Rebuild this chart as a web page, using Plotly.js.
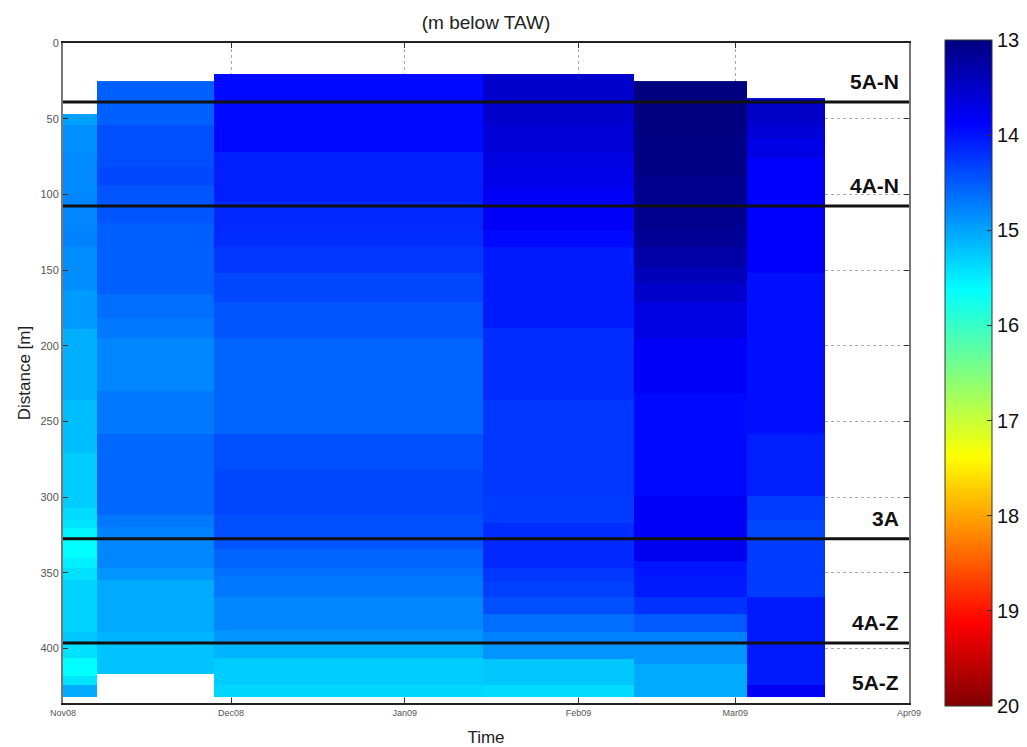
<!DOCTYPE html>
<html><head><meta charset="utf-8">
<script src="https://cdn.plot.ly/plotly-3.0.1.min.js"></script>
<style>html,body{margin:0;padding:0;background:#fff}#chart{width:1027px;height:747px}</style>
</head><body><div id="chart"></div>
<script>
// Survey column boundaries (time)
const colDates = ['2008-11-01','2008-11-07','2008-11-28','2009-01-15','2009-02-11','2009-03-03','2009-03-17'];

// Depth cell edges [m] and water level [m below TAW] per survey column
const edgesCol1 = [47, 54, 72, 100, 124, 135, 163, 189, 236, 271, 307, 315, 320.5, 327, 340, 347, 355, 389, 397, 406, 418, 424, 432];
const levelsCol1 = [14.97, 14.87, 14.82, 14.80, 14.77, 14.84, 14.94, 15.08, 15.18, 15.28, 15.38, 15.45, 15.56, 15.625, 15.52, 15.42, 15.32, 15.25, 15.42, 15.625, 15.45, 15.04];

const edgesCol2 = [25, 54, 82, 94, 119, 166, 182, 195, 230, 258, 312, 320, 327, 347, 355, 389, 397, 417];
const levelsCol2 = [14.53, 14.42, 14.36, 14.46, 14.53, 14.63, 14.70, 14.80, 14.70, 14.58, 14.70, 14.77, 14.80, 14.90, 15.04, 15.11, 15.21];

const edgesCol3 = [20.5, 72, 105, 123.5, 135, 152, 171, 195, 229, 258, 282, 312, 327, 334, 347, 352, 366, 388, 397, 406, 424, 432];
const levelsCol3 = [13.94, 14.08, 14.15, 14.18, 14.25, 14.36, 14.46, 14.56, 14.56, 14.42, 14.36, 14.42, 14.46, 14.56, 14.63, 14.70, 14.80, 14.90, 15.11, 15.28, 15.35];

const edgesCol4 = [20.5, 54, 72, 82.5, 95, 123.5, 135, 188, 236, 299, 317, 327, 347, 356, 366, 377, 389, 397, 407, 424, 432];
const levelsCol4 = [13.53, 13.60, 13.67, 13.74, 13.81, 13.94, 14.05, 14.18, 14.25, 14.29, 14.18, 14.15, 14.25, 14.32, 14.42, 14.63, 14.77, 14.90, 15.25, 15.38];

const edgesCol5 = [25, 60, 87, 123.5, 135, 148, 158.5, 171, 195, 231, 299, 327, 342, 352, 366, 377, 389, 397, 410, 432];
const levelsCol5 = [13.0, 13.03, 13.1, 13.15, 13.26, 13.39, 13.53, 13.67, 13.84, 13.94, 13.81, 13.77, 14.01, 14.05, 14.22, 14.49, 14.77, 14.90, 15.04];

const edgesCol6 = [36.2, 54, 62.6, 76, 152, 258, 299, 315, 327, 366, 424, 432];
const levelsCol6 = [13.5, 13.6, 13.7, 13.875, 13.98, 14.08, 14.29, 14.36, 14.29, 14.05, 13.8];

// Zone boundaries and names
const zoneNames = ['5A-N', '4A-N', '3A', '4A-Z', '5A-Z'];
const zoneLineDepths = [39, 107.6, 327.5, 396.3];

// Axis ticks
const monthTicks = ['2008-11-01','2008-12-01','2009-01-01','2009-02-01','2009-03-01','2009-04-01'];
const monthLabels = ['Nov08','Dec08','Jan09','Feb09','Mar09','Apr09'];
const depthTicks = [0, 50, 100, 150, 200, 250, 300, 350, 400];
const levelTicks = [13, 14, 15, 16, 17, 18, 19, 20];

const edgesAll = [edgesCol1, edgesCol2, edgesCol3, edgesCol4, edgesCol5, edgesCol6];
const levelsAll = [levelsCol1, levelsCol2, levelsCol3, levelsCol4, levelsCol5, levelsCol6];

// Build one common depth grid from the per-column edges so the whole field is a single heatmap
const unionEdges = Array.from(new Set([].concat(...edgesAll))).sort((a, b) => a - b);
const zGrid = [];
for (let j = 0; j < unionEdges.length - 1; j++) {
  const mid = (unionEdges[j] + unionEdges[j + 1]) / 2;
  const row = edgesAll.map((edges, i) => {
    for (let k = 0; k < edges.length - 1; k++) {
      if (mid >= edges[k] && mid < edges[k + 1]) return -levelsAll[i][k];
    }
    return null;
  });
  zGrid.push(row);
}

// jet colormap, mapped onto negated values so that 13 sits on top of the colour bar
const jetRev = [
  [0, 'rgb(128,0,0)'], [0.125, 'rgb(255,0,0)'], [0.375, 'rgb(255,255,0)'],
  [0.625, 'rgb(0,255,255)'], [0.875, 'rgb(0,0,255)'], [1, 'rgb(0,0,128)']
];

const traces = [{
  type: 'heatmap',
  x: colDates,
  y: unionEdges,
  z: zGrid,
  coloraxis: 'coloraxis',
  zsmooth: false,
  hoverinfo: 'skip'
}];

const narrow = 'Liberation Sans Narrow, Arial Narrow, Liberation Sans, sans-serif';
const sans = 'Liberation Sans, Arial, sans-serif';

const layout = {
  width: 1027, height: 747,
  margin: {l: 63, r: 118, t: 43, b: 44, autoexpand: false},
  paper_bgcolor: '#fff', plot_bgcolor: '#fff',
  font: {family: sans, color: '#000'},
  showlegend: false,
  title: {text: '(m below TAW)', font: {size: 19, color: '#222', family: sans},
          x: 0.5, xref: 'paper', y: 1 - 22 / 747, yref: 'container', yanchor: 'middle'},
  xaxis: {
    type: 'date', range: [monthTicks[0], monthTicks[monthTicks.length - 1]],
    tickmode: 'array', tickvals: monthTicks, ticktext: monthLabels,
    ticks: 'inside', ticklen: 5, tickcolor: '#333',
    showgrid: true, gridcolor: '#aaa', griddash: 'dot', gridwidth: 1,
    showline: true, linecolor: '#222', linewidth: 2, mirror: 'ticks', zeroline: false,
    tickfont: {size: 9, color: '#555', family: narrow},
    title: {text: 'Time', font: {size: 17, color: '#222', family: sans}, standoff: 20},
    automargin: false
  },
  yaxis: {
    range: [436, 0],
    tickmode: 'array', tickvals: depthTicks,
    ticks: 'inside', ticklen: 5, tickcolor: '#333',
    showgrid: true, gridcolor: '#aaa', griddash: 'dot', gridwidth: 1,
    showline: true, linecolor: '#777', linewidth: 2, mirror: 'ticks', zeroline: false,
    tickfont: {size: 11, color: '#555', family: narrow},
    title: {text: 'Distance [m]', font: {size: 17, color: '#222', family: sans}, standoff: 5},
    automargin: false
  },
  coloraxis: {
    cmin: -20, cmax: -13, colorscale: jetRev,
    colorbar: {
      x: (945 - 63) / 846, xanchor: 'left', xref: 'paper',
      y: 0.5, yanchor: 'middle',
      thickness: 47, thicknessmode: 'pixels',
      len: 666, lenmode: 'pixels', ypad: 0, xpad: 0,
      outlinewidth: 1, outlinecolor: '#333',
      tickmode: 'array', tickvals: levelTicks.map(v => -v), ticktext: levelTicks.map(String),
      ticks: 'inside', ticklen: 5, tickcolor: '#333',
      tickfont: {size: 20, color: '#111', family: sans}
    }
  },
  shapes: zoneLineDepths.map(d => ({
    type: 'line', xref: 'paper', x0: 0, x1: 1, yref: 'y', y0: d, y1: d,
    line: {color: '#111', width: 3}, layer: 'above'
  })),
  annotations: zoneNames.map((name, i) => ({
    text: '<b>' + name + '</b>', showarrow: false,
    xref: 'paper', x: 0.99, xanchor: 'right',
    yref: i < zoneLineDepths.length ? 'y' : 'paper',
    y: i < zoneLineDepths.length ? zoneLineDepths[i] : 0,
    yanchor: 'bottom', yshift: 7,
    font: {size: 21, color: '#111', family: sans}
  }))
};

Plotly.newPlot('chart', traces, layout, {staticPlot: true, displayModeBar: false});
</script>
</body></html>
